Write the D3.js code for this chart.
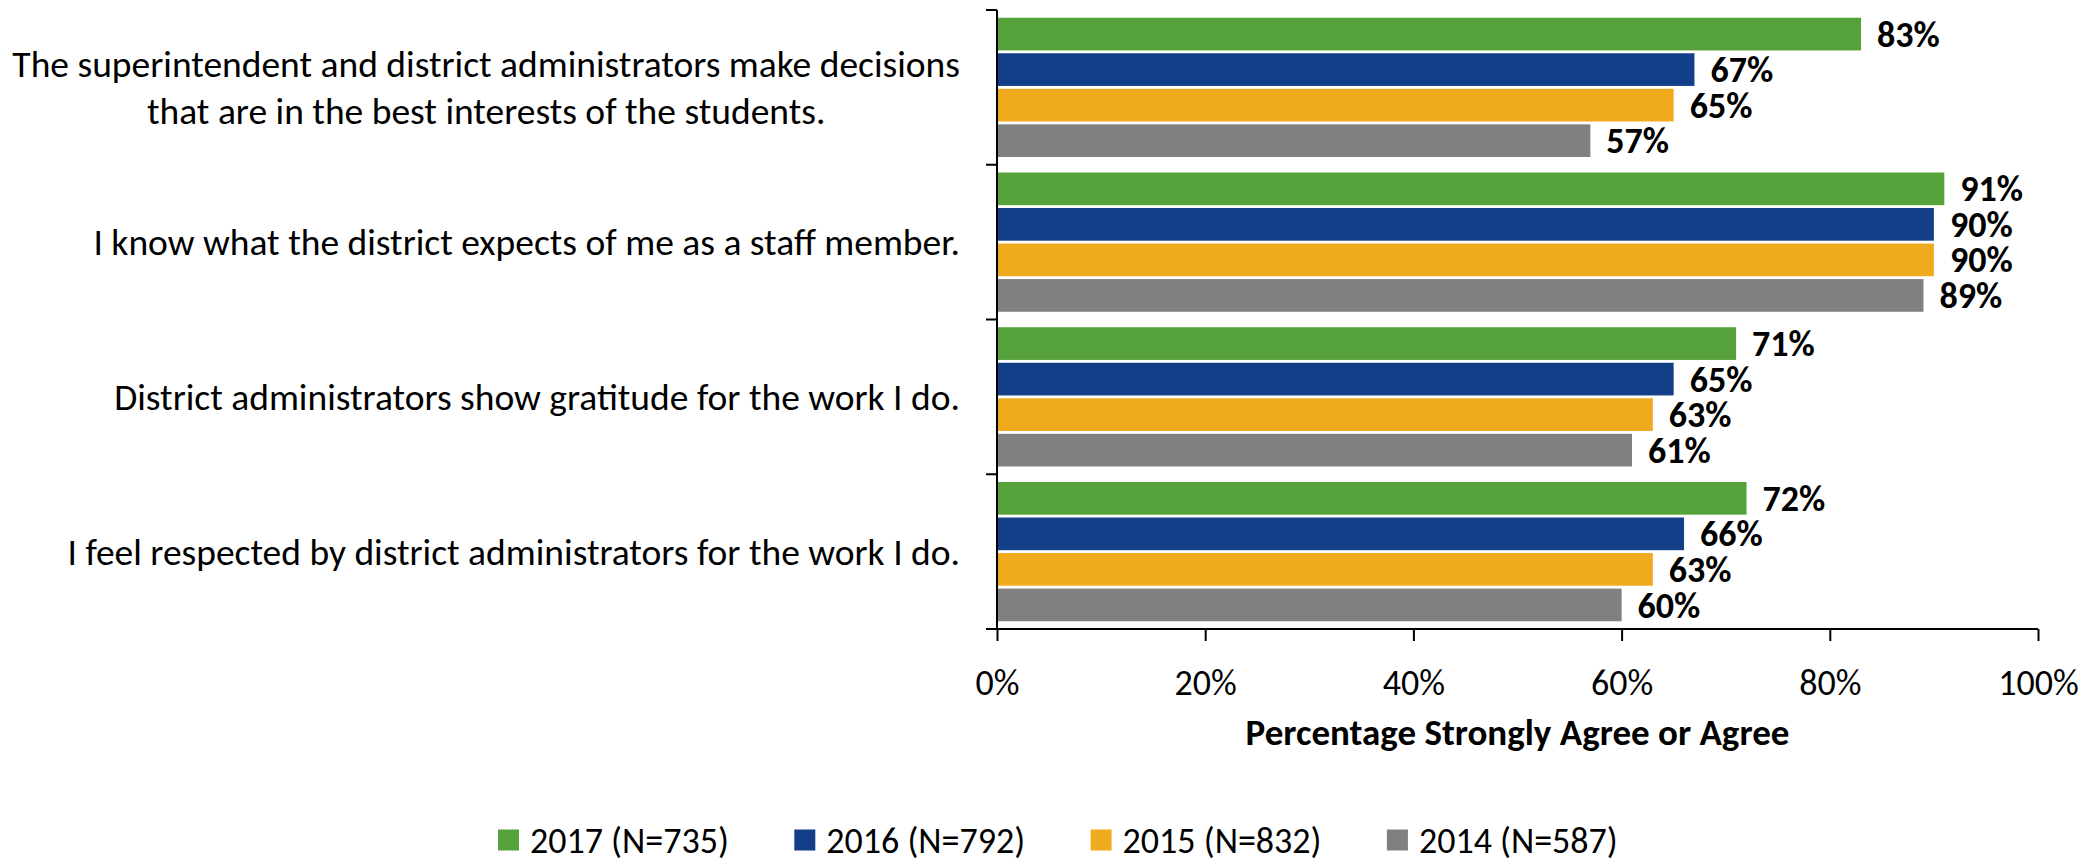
<!DOCTYPE html>
<html>
<head>
<meta charset="utf-8">
<script src="https://cdn.jsdelivr.net/npm/d3@7"></script>
<style>
  body { margin: 0; background: #fff; }
  svg { display: block; font-family: Carlito, Lato, sans-serif; }
</style>
</head>
<body>
<div id="chart"></div>
<script>
// categories, top to bottom (each entry is the label's lines)
const categories = [
  ['The superintendent and district administrators make decisions', 'that are in the best interests of the students.'],
  ['I know what the district expects of me as a staff member.'],
  ['District administrators show gratitude for the work I do.'],
  ['I feel respected by district administrators for the work I do.']
];
const seriesNames = ['2017 (N=735)', '2016 (N=792)', '2015 (N=832)', '2014 (N=587)'];
const seriesColors = ['#55a13a', '#133f88', '#f0aa1e', '#808080'];
// percent values per series, in category order
const v2017 = [83, 91, 71, 72];
const v2016 = [67, 90, 65, 66];
const v2015 = [65, 90, 63, 63];
const v2014 = [57, 89, 61, 60];
const xTicks = [0, 20, 40, 60, 80, 100];
const xTitle = 'Percentage Strongly Agree or Agree';

const seriesValues = [v2017, v2016, v2015, v2014];
const W = 2097, H = 858;
const plotLeft = 997, plotRight = 2038, plotTop = 10, plotBottom = 629;
const fontSize = 36;

const svg = d3.select('#chart').append('svg')
  .attr('width', W)
  .attr('height', H);

const x = d3.scaleLinear().domain([0, 100]).range([plotLeft, plotRight]);

const y = d3.scaleBand()
  .domain(d3.range(categories.length))
  .range([plotTop, plotBottom])
  .paddingInner(0.1)
  .paddingOuter(0.05);

const ySeries = d3.scaleBand()
  .domain(d3.range(seriesNames.length))
  .range([0, y.bandwidth()])
  .paddingInner(0.08);

// bars
const groups = svg.append('g').selectAll('g')
  .data(categories)
  .join('g')
  .attr('transform', (d, i) => `translate(0,${y(i)})`);

groups.each(function (cat, ci) {
  const gg = d3.select(this);
  const rows = seriesValues.map((vals, si) => ({ si, v: vals[ci] }));

  gg.selectAll('rect')
    .data(rows)
    .join('rect')
    .attr('x', x(0))
    .attr('y', d => ySeries(d.si))
    .attr('width', d => x(d.v) - x(0))
    .attr('height', ySeries.bandwidth())
    .attr('fill', d => seriesColors[d.si]);

  gg.selectAll('text.val')
    .data(rows)
    .join('text')
    .attr('class', 'val')
    .attr('x', d => x(d.v) + 16)
    .attr('y', d => ySeries(d.si) + ySeries.bandwidth() / 2)
    .attr('dy', '0.35em')
    .attr('font-size', fontSize)
    .attr('font-weight', 'bold')
    .attr('fill', '#000')
    .text(d => d.v + '%');
});

// category axis line and ticks (between categories)
const axisColor = '#000';
svg.append('line')
  .attr('x1', plotLeft).attr('x2', plotLeft)
  .attr('y1', plotTop).attr('y2', plotBottom)
  .attr('stroke', axisColor).attr('stroke-width', 2);

const boundaries = d3.range(categories.length).map(i => y(i) - y.step() * 0.05).concat([plotBottom]);
svg.append('g').selectAll('line')
  .data(boundaries)
  .join('line')
  .attr('x1', plotLeft - 11).attr('x2', plotLeft)
  .attr('y1', d => d).attr('y2', d => d)
  .attr('stroke', axisColor).attr('stroke-width', 2);

// category labels: right edge at 960, multi-line labels centred as a block
svg.append('g').selectAll('g')
  .data(categories)
  .join('g')
  .each(function (lines, i) {
    const gg = d3.select(this);
    const cy = y(i) + y.bandwidth() / 2;
    const lh = 47;
    const texts = gg.selectAll('text')
      .data(lines)
      .join('text')
      .attr('font-size', 37.5)
      .attr('fill', '#000')
      .attr('y', (d, k) => cy + (k - (lines.length - 1) / 2) * lh)
      .attr('dy', '0.35em')
      .text(d => d);
    let maxW = 0;
    texts.each(function () { maxW = Math.max(maxW, this.getComputedTextLength()); });
    texts.attr('text-anchor', 'middle').attr('x', 960 - maxW / 2);
  });

// value axis
const xAxis = svg.append('g')
  .attr('transform', `translate(0,${plotBottom})`)
  .call(d3.axisBottom(x).tickValues(xTicks).tickSize(12).tickPadding(28).tickFormat(d => d + '%'));
xAxis.select('.domain').attr('stroke', axisColor).attr('stroke-width', 2)
  .attr('d', `M${plotLeft - 11},0H${plotRight}`);
xAxis.selectAll('.tick line').attr('stroke', axisColor).attr('stroke-width', 2);
xAxis.selectAll('.tick text')
  .attr('font-size', fontSize)
  .attr('font-family', 'Carlito, Lato, sans-serif')
  .attr('fill', '#000');

svg.append('text')
  .attr('x', (plotLeft + plotRight) / 2)
  .attr('y', 732)
  .attr('dy', '0.35em')
  .attr('text-anchor', 'middle')
  .attr('font-size', 37)
  .attr('font-weight', 'bold')
  .text(xTitle);

// legend
const legend = svg.append('g').selectAll('g')
  .data(seriesNames)
  .join('g')
  .attr('transform', (d, i) => `translate(${498 + i * 296.3},840)`);
legend.append('rect')
  .attr('x', 0).attr('y', -10.5)
  .attr('width', 21).attr('height', 21)
  .attr('fill', (d, i) => seriesColors[i]);
legend.append('text')
  .attr('x', 32)
  .attr('dy', '0.35em')
  .attr('font-size', fontSize)
  .attr('fill', '#000')
  .text(d => d);
</script>
</body>
</html>
